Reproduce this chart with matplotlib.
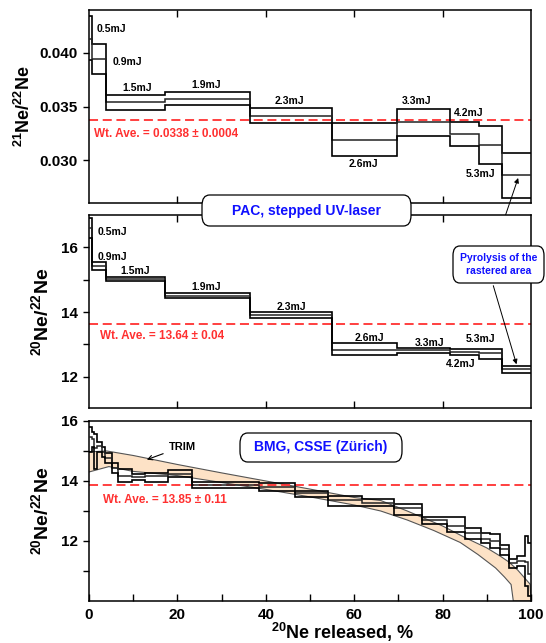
import numpy as np
import matplotlib
matplotlib.use("Agg")
import matplotlib.pyplot as plt
from matplotlib.patches import FancyBboxPatch

plt.rcParams['font.family'] = ['Liberation Sans', 'DejaVu Sans']
plt.rcParams['font.weight'] = 'bold'
plt.rcParams['mathtext.fontset'] = 'custom'
plt.rcParams['mathtext.rm'] = 'Liberation Sans:bold'
plt.rcParams['mathtext.it'] = 'Liberation Sans:bold'
plt.rcParams['mathtext.bf'] = 'Liberation Sans:bold'

# PAC stepped UV-laser, % 20Ne released (step edges)
pac_edges = [0, 0.75, 3.9, 17.1, 36.5, 55.0, 69.6, 81.6, 88.3, 93.4, 100]
ne21_hi = [0.0434, 0.04084, 0.03607, 0.03641, 0.03489, 0.03347, 0.0348, 0.03362, 0.03319, 0.03068]
ne21_mid = [0.0413, 0.03944, 0.03542, 0.03576, 0.03418, 0.03192, 0.03356, 0.03248, 0.03142, 0.02861]
ne21_lo = [0.0393, 0.03805, 0.03474, 0.03517, 0.0335, 0.03043, 0.03226, 0.03133, 0.02969, 0.02653]

ne20_hi = [16.9, 15.56, 15.09, 14.58, 13.99, 13.03, 12.88, 12.86, 12.86, 12.34]
ne20_mid = [16.6, 15.42, 15.03, 14.49, 13.90, 12.82, 12.81, 12.76, 12.72, 12.24]
ne20_lo = [16.3, 15.30, 14.97, 14.42, 13.80, 12.66, 12.73, 12.67, 12.54, 12.12]

# energy labels: (text, x, y) for each panel
lab21 = [("0.5mJ", 1.8, 0.0422), ("0.9mJ", 8.8, 0.0392), ("1.5mJ", 10.8, 0.03675),
         ("1.9mJ", 26.5, 0.0370), ("2.3mJ", 45.3, 0.03557), ("2.6mJ", 62.2, 0.02963),
         ("3.3mJ", 74.2, 0.03557), ("4.2mJ", 86.0, 0.0344), ("5.3mJ", 88.6, 0.02876)]
lab20 = [("0.5mJ", 2.0, 16.49), ("0.9mJ", 2.0, 15.71), ("1.5mJ", 10.4, 15.28),
         ("1.9mJ", 26.5, 14.78), ("2.3mJ", 45.7, 14.16), ("2.6mJ", 63.4, 13.2),
         ("3.3mJ", 77.0, 13.05), ("5.3mJ", 88.6, 13.16), ("4.2mJ", 84.2, 12.39)]

ave21, ave20_pac, ave20_bmg = 0.0338, 13.64, 13.85

# BMG, CSSE (Zurich)
bmg_edges = [0, 0.6, 1.1, 1.9, 2.9, 3.6, 5.1, 6.6, 9.7, 12.7, 17.9, 23.2, 30.4, 38.5, 46.6,
             54.1, 61.7, 68.9, 75.3, 80.9, 85.1, 88.8, 90.7, 93.0, 95.1, 96.9, 98.6, 99.4, 100]
bmg_hi = [15.80, 15.64, 15.58, 15.30, 15.14, 14.92, 14.59, 14.39, 14.23, 14.26, 14.37, 13.98,
          13.95, 13.93, 13.68, 13.51, 13.40, 13.24, 12.80, 12.80, 12.44, 12.25, 12.22, 11.88,
          11.41, 11.50, 12.16, 11.94]
bmg_mid = [15.47, 15.40, 15.10, 15.15, 14.97, 14.75, 14.42, 14.17, 14.13, 14.15, 14.24, 13.87,
           13.87, 13.80, 13.60, 13.37, 13.27, 13.10, 12.69, 12.51, 12.27, 12.07, 11.99, 11.72,
           11.28, 11.33, 11.30, 10.90]
bmg_lo = [14.97, 15.14, 14.40, 14.97, 14.81, 14.59, 14.26, 13.98, 14.04, 13.98, 14.13, 13.76,
          13.76, 13.65, 13.48, 13.17, 13.15, 12.88, 12.58, 12.29, 12.07, 11.94, 11.77, 11.55,
          11.11, 11.17, 10.50, 10.17]

# TRIM band
trim_x_up = [0, 4, 10, 20, 30, 40, 50, 60, 66, 72, 80, 85, 90, 93, 95, 97, 99.8, 100]
trim_up = [14.97, 15.0, 14.85, 14.55, 14.27, 14.0, 13.73, 13.45, 13.35, 13.0, 12.5, 12.12,
           11.77, 11.5, 11.3, 11.03, 10.56, 10.0]
trim_x_lo = [0, 4.5, 10, 20, 30, 40, 50, 60, 66, 72, 78, 84, 88, 92, 94, 95.5, 96, 100]
trim_lo = [14.30, 14.48, 14.32, 14.18, 13.95, 13.72, 13.47, 13.2, 13.0, 12.7, 12.35, 11.95,
           11.55, 11.1, 10.8, 10.55, 10.0, 10.0]

red = '#ff3030'
blue = '#1010ff'
W, H = 546, 643

fig = plt.figure(figsize=(5.46, 6.43), dpi=100)
ax1 = fig.add_axes([0.163, 0.6843, 0.8095, 0.300])
ax2 = fig.add_axes([0.163, 0.3655, 0.8095, 0.300])
ax3 = fig.add_axes([0.163, 0.0653, 0.8095, 0.280])


def draw_steps(ax, edges, hi, mid, lo):
    ax.stairs(hi, edges, baseline=None, color='k', lw=1.2, zorder=3)
    ax.stairs(mid, edges, baseline=None, color='#222222', lw=1.1, zorder=3)
    ax.stairs(lo, edges, baseline=None, color='k', lw=1.2, zorder=3)


def rbox(x0, y0, x1, y1, r):
    # rounded box given in pixels from the top-left corner
    p = FancyBboxPatch((x0 / W, 1 - y1 / H), (x1 - x0) / W, (y1 - y0) / H,
                       boxstyle='round,pad=0,rounding_size=%f' % (r / H),
                       transform=fig.transFigure, fc='white', ec='k', lw=0.9,
                       zorder=8, mutation_aspect=H / W)
    fig.add_artist(p)


# top panel
draw_steps(ax1, pac_edges, ne21_hi, ne21_mid, ne21_lo)
ax1.axhline(ave21, color=red, ls=(0, (5, 2.6)), lw=1.3, zorder=2)
ax1.text(1.2, 0.03248, "Wt. Ave. = 0.0338 ± 0.0004", color=red, fontsize=8.5,
         fontweight='bold', va='center')
for t, x, y in lab21:
    ax1.text(x, y, t, fontsize=7.5, fontweight='bold', va='center',
             ha='left' if x < 3 else 'center')
ax1.set_ylim(0.02604, 0.04399)
ax1.set_yticks([0.030, 0.035, 0.040])
ax1.set_yticklabels(["0.030", "0.035", "0.040"])
ax1.set_ylabel(r'$^{21}$Ne/$^{22}$Ne', fontsize=13, fontweight='bold')
ax1.yaxis.set_label_coords(-0.124, 0.5)

# middle panel
draw_steps(ax2, pac_edges, ne20_hi, ne20_mid, ne20_lo)
ax2.axhline(ave20_pac, color=red, ls=(0, (5, 2.6)), lw=1.3, zorder=2)
ax2.text(2.5, 13.27, "Wt. Ave. = 13.64 ± 0.04", color=red, fontsize=8.5,
         fontweight='bold', va='center')
for t, x, y in lab20:
    ax2.text(x, y, t, fontsize=7.5, fontweight='bold', va='center',
             ha='left' if x < 3 else 'center')
ax2.set_ylim(11.03, 17.0)
ax2.set_yticks([12, 14, 16])
ax2.set_yticks([13, 15], minor=True)
ax2.set_ylabel(r'$^{20}$Ne/$^{22}$Ne', fontsize=14, fontweight='bold')
ax2.yaxis.set_label_coords(-0.084, 0.5)

# bottom panel
ax3.fill(np.r_[trim_x_up, trim_x_lo[::-1]], np.r_[trim_up, trim_lo[::-1]],
         color='#fde2c6', lw=0, zorder=1)
ax3.plot(trim_x_up, trim_up, color='#555555', lw=0.8, zorder=2)
ax3.plot(trim_x_lo, trim_lo, color='#555555', lw=0.8, zorder=2)
draw_steps(ax3, bmg_edges, bmg_hi, bmg_mid, bmg_lo)
ax3.axhline(ave20_bmg, color=red, ls=(0, (5, 2.6)), lw=1.3, zorder=2)
ax3.text(3.1, 13.36, "Wt. Ave. = 13.85 ± 0.11", color=red, fontsize=8.5,
         fontweight='bold', va='center')
ax3.annotate("TRIM", xy=(12.5, 14.68), xytext=(18.0, 15.14), fontsize=8,
             fontweight='bold', va='center',
             arrowprops=dict(arrowstyle='->', color='k', lw=0.8))
ax3.set_ylim(10.0, 16.0)
ax3.set_yticks([12, 14, 16])
ax3.set_yticks([11, 13, 15], minor=True)
ax3.set_xticks([0, 20, 40, 60, 80, 100])
ax3.set_xticks([10, 30, 50, 70, 90], minor=True)
ax3.set_ylabel(r'$^{20}$Ne/$^{22}$Ne', fontsize=14, fontweight='bold')
ax3.yaxis.set_label_coords(-0.084, 0.5)
ax3.set_xlabel(r'$^{20}$Ne released, %', fontsize=13, fontweight='bold')
ax3.xaxis.set_label_coords(0.573, -0.108)

for ax in (ax1, ax2, ax3):
    ax.set_xlim(0, 100)
    for s in ax.spines.values():
        s.set_linewidth(1.1)
    ax.tick_params(axis='y', which='both', direction='out', length=4, width=1,
                   labelsize=11, pad=4)
    for lbl in ax.get_yticklabels():
        lbl.set_fontweight('bold')

for ax in (ax1, ax2):
    ax.set_xticks([20, 40, 60, 80])
    ax.tick_params(axis='x', which='both', direction='in', length=5, width=1,
                   top=True, bottom=True, labelbottom=False)

ax3.tick_params(axis='x', which='both', direction='in', length=5, width=1,
                top=False, labelsize=11, pad=5)
for lbl in ax3.get_xticklabels():
    lbl.set_fontweight('bold')

# labelled boxes
rbox(202, 195, 411, 226, 9)
fig.text(306.5 / W, 1 - 210.5 / H, "PAC, stepped UV-laser", color=blue, fontsize=10,
         fontweight='bold', ha='center', va='center', zorder=10)
rbox(240, 433, 402, 462, 9)
fig.text(321 / W, 1 - 447.5 / H, "BMG, CSSE (Zürich)", color=blue, fontsize=10,
         fontweight='bold', ha='center', va='center', zorder=10)
rbox(453, 246, 544, 283, 8)
fig.text(498.5 / W, 1 - 264.5 / H, "Pyrolysis of the\nrastered area", color=blue,
         fontsize=7.5, fontweight='bold', ha='center', va='center', linespacing=1.4,
         zorder=10)

ax1.annotate("", xy=(97.3, 0.02861), xycoords='data',
             xytext=(495 / W, 1 - 246 / H), textcoords='figure fraction',
             arrowprops=dict(arrowstyle='-|>', color='k', lw=0.7, mutation_scale=7),
             annotation_clip=False, zorder=9)
ax2.annotate("", xy=(96.9, 12.3), xycoords='data',
             xytext=(492.5 / W, 1 - 283 / H), textcoords='figure fraction',
             arrowprops=dict(arrowstyle='-|>', color='k', lw=0.7, mutation_scale=7),
             annotation_clip=False, zorder=9)

fig.savefig("out.png", dpi=100)
